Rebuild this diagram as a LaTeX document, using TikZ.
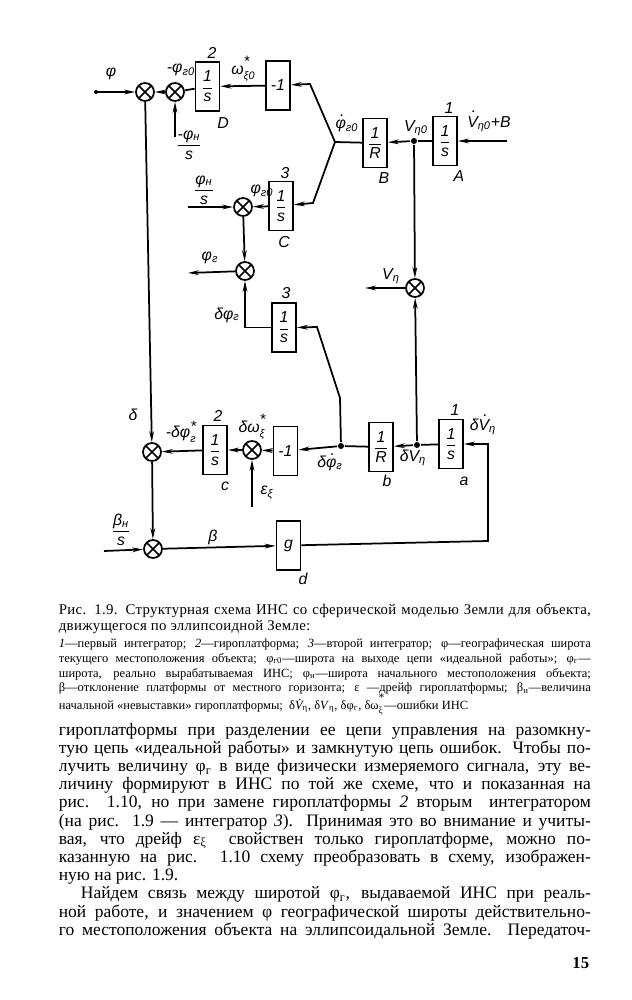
\documentclass[tikz,border=0pt]{standalone}
\usepackage{fontspec}
\setmainfont{Liberation Serif}
\newfontfamily\dfont{Liberation Sans}
\newfontfamily\capfont{Liberation Serif}[LetterSpace=2]
\usetikzlibrary{arrows.meta}
\newcommand\dt[2][0.78em]{\ooalign{#2\cr\hidewidth\kern0.2em\raisebox{#1}{.}\hidewidth\cr}}
\newcommand\supsub[2]{\raisebox{-0.3em}{\fontsize{6.5}{6.5}\selectfont\shortstack[l]{\raisebox{-0.25em}{\fontsize{9}{9}\selectfont *}\\#2}}}
\newcommand\lsupsub[2]{\raisebox{-0.35em}{\fontsize{5.5}{5.5}\selectfont\shortstack[l]{\raisebox{-0.45em}{\fontsize{7}{7}\selectfont *}\\#2}}}
\newcommand\lfrac[2]{\ensuremath{\displaystyle{\hbox{#1}\over\hbox{#2}}}}
\begin{document}
\begin{tikzpicture}[x=0.6pt,y=-0.6pt,line width=1.05pt,
 sumn/.style={circle,draw,minimum size=10.8pt,inner sep=0pt,path picture={\draw[line width=0.9pt] (path picture bounding box.north west)--(path picture bounding box.south east) (path picture bounding box.north east)--(path picture bounding box.south west);}},
 blk/.style={draw,rectangle,minimum width=14.4pt,minimum height=29.4pt,inner sep=0pt,font=\dfont\itshape\fontsize{9.5}{10}\selectfont},
 dotn/.style={circle,fill,minimum size=3.6pt,inner sep=0pt},
 lbl/.style={inner sep=0pt,font=\dfont\itshape\fontsize{9.5}{10}\selectfont},
 arr/.style={-{Stealth[length=6.5pt,width=2.8pt]}},
 txt/.style={anchor=base west,inner sep=0pt,font=\fontsize{10.5}{11}\selectfont},
 captxt/.style={anchor=base west,inner sep=0pt,font=\capfont\fontsize{8.9}{9}\selectfont},
 legtxt/.style={anchor=base west,inner sep=0pt,font=\fontsize{7.5}{8}\selectfont}]
\fill[white] (0,0) rectangle (631,1000);
\useasboundingbox (0,0) rectangle (631,1000);
% ---------- top row
\node[sumn] (S1) at (145,92) {};
\node[sumn] (S2) at (175,92) {};
\node[blk] (D) at (207.5,86.5) {\lfrac{1}{s}};
\node[blk] (M1) at (278,85.5) {-1};
\coordinate (phin) at (96,92);
\coordinate (P1) at (310,84);
\coordinate (J1) at (335,142);
\coordinate (P2) at (313,203);
\node[blk] (B) at (375,143) {\lfrac{1}{R}};
\node[dotn] (J2) at (414,141) {};
\node[blk] (A) at (445,141) {\lfrac{1}{s}};
\coordinate (Ain) at (507,141);
\node[lbl] (Lphi) at (111,74) {φ};
\node[lbl] (Lphg0) at (181,70) {-φ\textsubscript{г0}};
\node[lbl] (L2D) at (212,53) {2};
\node[lbl] (LD) at (223,123) {D};
\node[lbl] (Lom) at (243,69) {ω\supsub{*}{ξ0}};
\node[lbl] (Fphn) at (189,145) {\lfrac{-φ\textsubscript{н}}{s}};
\coordinate (phnin) at (175,137);
\node[lbl] (LJ1) at (347,126) {\dt{φ}\textsubscript{г0}};
\node[lbl] (LV0) at (416,128) {V\textsubscript{η0}};
\node[lbl] (L1A) at (449,108) {1};
\node[lbl] (LB) at (384,178) {B};
\node[lbl] (LA) at (459,176) {A};
\node[lbl] (LAin) at (489,124) {\dt[0.92em]{V}\textsubscript{η0}+B};
% ---------- middle
\node[blk] (C) at (281,206) {\lfrac{1}{s}};
\node[sumn] (S3) at (243,207) {};
\coordinate (S3in) at (188,207);
\node[sumn] (S4) at (245,271) {};
\coordinate (S4out) at (188,273);
\node[blk] (I3) at (284,327.5) {\lfrac{1}{s}};
\node[sumn] (S5) at (415,288) {};
\coordinate (S5out) at (365,288);
\node[lbl] (Fphn2) at (204,190) {\lfrac{φ\textsubscript{н}}{s}};
\node[lbl] (Lphg0b) at (262,191) {φ\textsubscript{г0}};
\node[lbl] (L3C) at (285,173) {3};
\node[lbl] (LC) at (284,242) {C};
\node[lbl] (Lphg) at (210,258) {φ\textsubscript{г}};
\node[lbl] (L3I) at (286,293) {3};
\node[lbl] (Ldphg) at (227,315) {δφ\textsubscript{г}};
\node[lbl] (LVeta) at (391,276) {V\textsubscript{η}};
% ---------- bottom row
\node[blk] (a) at (451,444) {\lfrac{1}{s}};
\coordinate (Rt) at (488,444);
\coordinate (Rb) at (488,541);
\node[dotn] (J4) at (417,445) {};
\node[blk] (b) at (381,447) {\lfrac{1}{R}};
\node[dotn] (J3) at (341,446) {};
\coordinate (Q1) at (340,398);
\coordinate (Q2) at (317,327);
\node[blk] (M2) at (285.5,451) {-1};
\node[sumn] (S6) at (252,450) {};
\coordinate (E) at (252,507);
\node[blk] (c) at (215,450) {\lfrac{1}{s}};
\node[sumn] (S7) at (152,452) {};
\node[sumn] (S8) at (153,549) {};
\coordinate (S8in) at (104,551);
\node[blk] (g) at (288.5,545.5) {g};
\node[lbl] (L1a) at (455,410) {1};
\node[lbl] (La) at (464,481) {a};
\node[lbl] (LdVd) at (483,427) {δ\dt[0.92em]{V}\textsubscript{η}};
\node[lbl] (LdV) at (413,458) {δV\textsubscript{η}};
\node[lbl] (Lb) at (387,481) {b};
\node[lbl] (Ldphd) at (330,463) {δ\dt{φ}\textsubscript{г}};
\node[lbl] (Ldom) at (252,427) {δω\supsub{*}{ξ}};
\node[lbl] (Leps) at (267,493) {ε\textsubscript{ξ}};
\node[lbl] (L2c) at (218,416) {2};
\node[lbl] (Lc) at (225,486) {c};
\node[lbl] (Lmdph) at (181,432) {-δφ\supsub{*}{г}};
\node[lbl] (Ldel) at (133,415) {δ};
\node[lbl] (Fbn) at (121,530) {\lfrac{β\textsubscript{н}}{s}};
\node[lbl] (Lbeta) at (213,537) {β};
\node[lbl] (Ld) at (303,579) {d};
% ---------- connectors
\draw[arr] (phin) -- (S1);
\fill (phin) circle (1.2pt);
\draw[arr] (S2) -- (S1);
\draw (D) -- (S2);
\draw[arr] (M1) -- (D);
\draw[arr] (phnin) -- (S2);
\draw[arr] (J1) -- (P1) -- (M1);
\draw (B) -- (J1);
\draw[arr] (J2) -- (B);
\draw (A) -- (J2);
\draw[arr] (Ain) -- (A);
\draw[arr] (J1) -- (P2) -- (C);
\draw[arr] (C) -- (S3);
\draw[arr] (S3in) -- (S3);
\draw[arr] (S3) -- (S4);
\draw[arr] (S4) -- (S4out);
\draw[arr] (I3.west) -| (S4.south);
\draw[arr] (J3) -- (Q1) -- (Q2) -- (I3.east);
\draw[arr] (J2) -- (S5);
\draw[arr] (S5) -- (S5out);
\draw[arr] (J4) -- (S5);
\draw[arr] (g) -- (Rb) -- (Rt) -- (a);
\draw (a) -- (J4);
\draw[arr] (J4) -- (b);
\draw (b) -- (J3);
\draw[arr] (J3) -- (M2);
\draw[arr] (M2) -- (S6);
\draw[arr] (E) -- (S6);
\draw[arr] (S6) -- (c);
\draw[arr] (c) -- (S7);
\draw[arr] (S1) -- (S7);
\draw[arr] (S7) -- (S8);
\draw[arr] (S8in) -- (S8);
\draw[arr] (S8) -- (g);
% ---------- caption
\node[captxt] (cap1) at (58,614) {\makebox[319.2pt][s]{Рис. 1.9. Структурная схема ИНС со сферической моделью Земли для объекта,}};
\node[captxt] (cap2) at (58,630) {движущегося по эллипсоидной Земле:};
\node[legtxt] (leg1) at (58,647) {\makebox[319.2pt][s]{\textit{1}—первый интегратор; \textit{2}—гироплатформа; \textit{3}—второй интегратор; φ—географическая широта}};
\node[legtxt] (leg2) at (58,662) {\makebox[319.2pt][s]{текущего местоположения объекта; φ\textsubscript{г0}—широта на выходе цепи «идеальной работы»; φ\textsubscript{г}—}};
\node[legtxt] (leg3) at (58,677) {\makebox[319.2pt][s]{широта, реально вырабатываемая ИНС; φ\textsubscript{н}—широта начального местоположения объекта;}};
\node[legtxt] (leg4) at (58,691.5) {\makebox[319.2pt][s]{β—отклонение платформы от местного горизонта; ε —дрейф гироплатформы; β\textsubscript{н}—величина}};
\node[legtxt] (leg5) at (58,709) {начальной «невыставки» гироплатформы;\enspace δ\textit{\dt[0.66em]{V}}\textsubscript{η}, δ\textit{V}\textsubscript{η}, δφ\textsubscript{г}, δω\lsupsub{*}{ξ}—ошибки ИНС};
% ---------- body text
\node[txt] (t1) at (58,735) {\makebox[319.2pt][s]{гироплатформы при разделении ее цепи управления на разомкну-}};
\node[txt] (t2) at (58,753.2) {\makebox[319.2pt][s]{тую цепь «идеальной работы» и замкнутую цепь ошибок. Чтобы по-}};
\node[txt] (t3) at (58,771.4) {\makebox[319.2pt][s]{лучить величину φ\textsubscript{г} в виде физически измеряемого сигнала, эту ве-}};
\node[txt] (t4) at (58,789.6) {\makebox[319.2pt][s]{личину формируют в ИНС по той же схеме, что и показанная на}};
\node[txt] (t5) at (58,807.8) {\makebox[319.2pt][s]{рис. 1.10, но при замене гироплатформы \textit{2} вторым \ интегратором}};
\node[txt] (t6) at (58,826) {\makebox[319.2pt][s]{(на рис. 1.9 — интегратор \textit{3}). Принимая это во внимание и учиты-}};
\node[txt] (t7) at (58,844.2) {\makebox[319.2pt][s]{вая, что дрейф ε\textsubscript{ξ} \ свойствен только гироплатформе, можно по-}};
\node[txt] (t8) at (58,862.4) {\makebox[319.2pt][s]{казанную на рис. 1.10 схему преобразовать в схему, изображен-}};
\node[txt] (t9) at (58,880.6) {ную на рис. 1.9.};
\node[txt] (t10) at (80,898.8) {\makebox[306pt][s]{Найдем связь между широтой φ\textsubscript{г}, выдаваемой ИНС при реаль-}};
\node[txt] (t11) at (58,917) {\makebox[319.2pt][s]{ной работе, и значением φ географической широты действительно-}};
\node[txt] (t12) at (58,935.2) {\makebox[319.2pt][s]{го местоположения объекта на эллипсоидальной Земле. Передаточ-}};
\node[txt,anchor=base east,font=\fontsize{10}{11}\bfseries] (pg) at (590,968) {15};
\end{tikzpicture}
\end{document}
